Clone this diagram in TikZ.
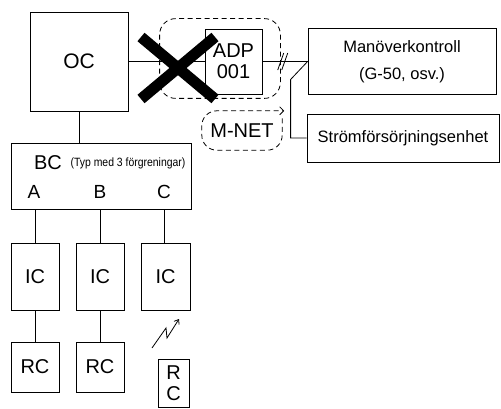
\documentclass[tikz,border=0pt]{standalone}
\usepackage{fontspec}
\setmainfont{Liberation Sans}
\usetikzlibrary{arrows.meta, calc}

\tikzset{
  unit/.style={shape=rectangle, draw, line width=0.8pt, inner sep=0pt, font=\fontsize{20}{21}\selectfont},
  link/.style={line width=0.8pt},
  mnetline/.style={line width=0.8pt, dash pattern=on 5pt off 3.5pt},
  tag/.style={inner sep=0pt, font=\fontsize{19}{21}\selectfont}
}

\begin{document}
\begin{tikzpicture}[x=1pt, y=-1pt]
\useasboundingbox (0,0) rectangle (501,409);

\node (OC) [unit, minimum width=98pt, minimum height=99pt, font=\fontsize{21}{22}\selectfont] at (79,61.5) {OC};
\node (ADP) [unit, minimum width=57pt, minimum height=65pt, align=center] at (233.5,61.5) {ADP\\001};
\node (Man) [unit, minimum width=188pt, minimum height=66pt, align=center, font=\fontsize{16.5}{27}\selectfont] at (402,61.5) {Manöverkontroll\\(G-50, osv.)};
\node (Str) [unit, minimum width=192pt, minimum height=48pt, font=\fontsize{16.5}{18}\selectfont] at (403,138) {Strömförsörjningsenhet};

\draw[link] (OC.east) -- (ADP.west);
\draw[link] (ADP.east) -- (Man.west);
\draw[link] (Man.west) -- ++(-17,18) |- (Str.west);

% avbruten anslutning
\coordinate (cut) at ($(ADP.east)!0.45!(Man.west)$);
\draw[link] ($(cut)+(-5,8.5)$) -- ++(6,-17);
\draw[link] ($(cut)+(-1,8.5)$) -- ++(6,-17);

\draw[mnetline, rounded corners=16pt] ($(ADP.north west)+(-45,-10)$) rectangle ($(ADP.south east)+(18,4)$);
\draw[line width=11pt] (141,37) -- (215,99) (141,99) -- (215,37);

\node (mnet) [minimum width=80pt, minimum height=39pt, inner sep=0pt, font=\fontsize{20}{22}\selectfont] at (242,130.5) {M-NET};
\draw[mnetline, rounded corners=15pt, -{Straight Barb[length=4pt, width=8pt]}] ([yshift=12pt]mnet.east) |- (mnet.south west) |- ([xshift=2pt]mnet.north east);

% BC med grenar
\node (BC) [unit, minimum width=180pt, minimum height=66pt] at (101,176) {};
\node (BCname) [tag, font=\fontsize{20}{22}\selectfont] at (48,163) {BC};
\node (BCnote) [tag, font=\fontsize{12}{14}\selectfont, xscale=0.87] at (128,163) {(Typ med 3 förgreningar)};
\node (brA) [tag] at (34,192) {A};
\node (brB) [tag] at (100,192) {B};
\node (brC) [tag] at (164,192) {C};
\draw[link] (OC.south) -- (OC.south |- BC.north);

\node (IC1) [unit, minimum width=48pt, minimum height=67pt] at (35,276.5) {IC};
\node (IC2) [unit, minimum width=48pt, minimum height=67pt] at (100,276.5) {IC};
\node (IC3) [unit, minimum width=49pt, minimum height=67pt] at (165.5,276.5) {IC};

\draw[link] (IC1.north |- BC.south) -- (IC1.north);
\draw[link] (IC2.north |- BC.south) -- (IC2.north);
\draw[link] (brC.south |- BC.south) -- (brC.south |- IC3.north);

\node (RC1) [unit, minimum width=48pt, minimum height=50pt] at (35,367) {RC};
\node (RC2) [unit, minimum width=48pt, minimum height=50pt] at (100,367) {RC};
\node (RC3) [unit, minimum width=31pt, minimum height=48pt, align=center, font=\fontsize{20}{21}\selectfont] at (173.5,383) {R\\C};

\draw[link] (IC1.south) -- (RC1.north);
\draw[link] (IC2.south) -- (RC2.north);

% trådlös
\draw[link, -{Straight Barb[length=4pt, width=6pt]}] (152,348) -- (166,328) -- (167,338) -- (179,319);

\end{tikzpicture}
\end{document}
